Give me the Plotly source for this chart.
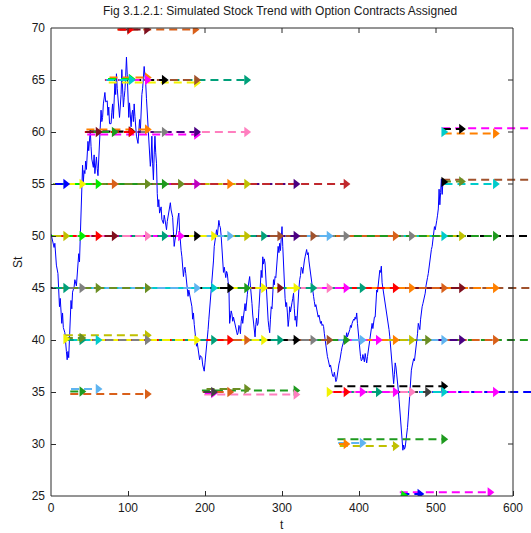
import plotly.graph_objects as go

# ---- simulated stock path (day, price) ----
t_days = [
    0, 2, 4, 5, 7, 9, 10, 11, 12, 13,
    14, 15, 16, 18, 19, 20, 21, 22, 23, 24,
    25, 26, 27, 28, 30, 31, 33, 35, 36, 37,
    38, 39, 40, 41, 42, 43, 44, 45, 46, 47,
    48, 49, 50, 51, 52, 53, 55, 56, 57, 58,
    59, 60, 61, 62, 63, 64, 65, 66, 67, 68,
    70, 71, 73, 74, 75, 76, 78, 79, 80, 81,
    83, 84, 85, 86, 87, 88, 89, 90, 91, 92,
    93, 94, 95, 96, 97, 98, 99, 100, 101, 102,
    103, 104, 105, 106, 107, 108, 109, 110, 111, 113,
    114, 115, 116, 117, 118, 119, 120, 121, 122, 123,
    124, 125, 126, 127, 128, 129, 130, 131, 132, 133,
    134, 135, 136, 137, 138, 139, 140, 141, 143, 144,
    146, 147, 148, 150, 151, 153, 155, 156, 158, 159,
    160, 161, 163, 165, 166, 167, 168, 169, 170, 171,
    172, 173, 174, 175, 176, 177, 178, 179, 180, 181,
    183, 184, 185, 186, 187, 188, 189, 190, 191, 192,
    193, 194, 196, 197, 198, 199, 200, 201, 202, 203,
    204, 205, 206, 207, 208, 209, 210, 211, 212, 213,
    214, 215, 216, 217, 218, 219, 220, 221, 222, 223,
    224, 225, 226, 227, 228, 229, 230, 231, 232, 233,
    234, 235, 236, 237, 238, 239, 240, 241, 242, 243,
    244, 245, 246, 247, 248, 249, 250, 251, 252, 253,
    254, 255, 256, 257, 258, 259, 260, 261, 262, 263,
    264, 265, 266, 267, 268, 269, 270, 271, 272, 273,
    274, 275, 276, 277, 278, 279, 280, 281, 282, 283,
    284, 285, 286, 287, 288, 289, 290, 291, 292, 293,
    294, 295, 296, 297, 298, 299, 300, 301, 302, 303,
    304, 305, 306, 307, 308, 309, 310, 311, 312, 313,
    314, 315, 316, 317, 318, 319, 320, 321, 322, 323,
    324, 325, 326, 327, 328, 329, 330, 331, 332, 333,
    334, 335, 336, 337, 338, 339, 340, 341, 342, 343,
    344, 345, 346, 347, 348, 349, 350, 351, 352, 353,
    354, 355, 356, 357, 358, 359, 360, 361, 362, 363,
    364, 365, 366, 367, 368, 369, 370, 371, 372, 373,
    374, 375, 376, 377, 378, 379, 380, 381, 382, 383,
    384, 385, 386, 387, 388, 389, 390, 391, 392, 393,
    394, 395, 396, 397, 398, 399, 400, 401, 402, 403,
    404, 405, 406, 407, 408, 409, 410, 411, 412, 413,
    414, 415, 416, 417, 418, 419, 420, 421, 422, 423,
    424, 425, 426, 427, 428, 429, 430, 431, 432, 433,
    434, 435, 436, 437, 438, 439, 440, 441, 442, 443,
    444, 445, 446, 447, 448, 449, 450, 451, 452, 453,
    454, 455, 456, 457, 458, 459, 460, 461, 462, 463,
    464, 465, 466, 467, 468, 469, 470, 471, 472, 473,
    474, 475, 476, 477, 478, 479, 480, 481, 482, 483,
    484, 485, 486, 487, 488, 489, 490, 491, 492, 493,
    494, 495, 496, 497, 498, 499, 500, 501, 502, 503,
    504, 505, 506, 507, 508, 509,
]
st_price = [
    50.2, 49.6, 48.9, 49.3, 47.2, 46.4, 44.8, 43.2, 44.0, 42.4,
    41.6, 42.6, 41.2, 40.7, 39.4, 38.9, 38.1, 38.9, 38.3, 40.0,
    41.5, 43.8, 43.0, 44.6, 45.1, 45.8, 45.2, 47.0, 48.3, 47.5,
    49.6, 50.9, 54.7, 56.8, 55.2, 56.3, 56.0, 57.2, 56.4, 58.3,
    59.1, 58.2, 59.9, 60.2, 58.6, 57.4, 56.6, 57.8, 56.0, 56.9,
    57.6, 56.5, 55.8, 57.4, 59.2, 60.6, 62.1, 61.0, 61.4, 62.7,
    63.8, 62.9, 63.0, 61.6, 62.4, 60.8, 60.8, 61.9, 62.7, 61.3,
    64.7, 63.6, 65.6, 64.2, 63.0, 62.0, 61.4, 62.5, 63.6, 66.0,
    64.5, 62.4, 63.3, 64.0, 65.4, 67.2, 65.5, 63.0, 61.4, 62.8,
    61.9, 60.5, 61.7, 62.1, 61.0, 62.7, 61.5, 60.2, 59.6, 58.9,
    60.3, 61.2, 60.0, 62.2, 63.6, 64.2, 65.0, 66.3, 65.4, 64.7,
    63.2, 61.8, 60.4, 59.2, 57.8, 56.7, 57.5, 59.6, 57.0, 55.4,
    57.8, 59.6, 58.0, 57.0, 54.1, 52.8, 53.5, 52.2, 52.8, 51.6,
    51.2, 52.0, 51.6, 50.6, 51.4, 52.2, 53.2, 52.5, 51.8, 50.4,
    49.0, 49.6, 50.3, 51.8, 52.2, 50.5, 49.0, 48.6, 48.0, 47.2,
    46.1, 46.8, 47.0, 46.4, 45.8, 45.0, 44.2, 44.8, 44.4, 43.8,
    43.2, 42.0, 42.6, 41.5, 40.7, 40.2, 39.4, 39.7, 39.0, 38.6,
    38.1, 38.5, 38.3, 37.6, 37.3, 37.0, 37.8, 38.5, 39.4, 40.1,
    41.0, 42.0, 42.9, 43.6, 44.8, 46.0, 47.0, 47.6, 49.0, 49.5,
    50.1, 50.6, 50.0, 51.2, 51.5, 51.0, 50.8, 50.0, 48.6, 47.5,
    46.5, 47.0, 46.2, 46.0, 46.6, 46.4, 45.6, 45.2, 41.6, 42.2,
    42.8, 42.5, 41.8, 42.2, 41.9, 41.6, 41.2, 41.0, 40.5, 40.7,
    41.4, 41.3, 40.6, 41.8, 42.3, 41.6, 42.2, 43.0, 43.5, 42.8,
    44.0, 44.4, 45.1, 45.6, 46.1, 45.2, 44.6, 43.5, 42.4, 41.6,
    41.0, 40.3, 41.5, 42.1, 41.4, 41.6, 43.0, 44.5, 45.4, 46.7,
    46.0, 48.0, 47.3, 47.8, 47.4, 45.8, 44.2, 43.1, 41.9, 41.2,
    40.7, 42.0, 43.2, 43.0, 44.6, 45.8, 45.3, 46.1, 46.0, 47.4,
    48.1, 49.0, 48.4, 49.3, 48.6, 49.8, 50.9, 49.0, 47.4, 44.8,
    44.0, 43.2, 43.6, 42.6, 41.3, 42.0, 43.2, 42.7, 43.4, 43.6,
    44.0, 44.5, 43.0, 41.9, 42.3, 41.3, 42.5, 44.5, 45.0, 45.8,
    46.2, 47.0, 46.9, 46.4, 47.3, 47.6, 48.0, 48.3, 48.7, 48.2,
    48.4, 47.6, 47.0, 46.3, 45.5, 45.0, 44.7, 44.2, 43.7, 43.2,
    43.4, 43.0, 42.6, 42.2, 42.4, 41.9, 41.6, 41.8, 41.4, 41.5,
    41.3, 40.6, 40.0, 39.4, 38.7, 38.4, 38.1, 37.8, 37.4, 37.6,
    37.0, 36.8, 36.5, 36.5, 36.9, 36.3, 36.0, 36.2, 36.8, 37.3,
    37.7, 38.0, 38.7, 38.9, 39.3, 39.6, 40.0, 40.2, 40.4, 40.1,
    40.7, 40.3, 40.5, 40.8, 41.0, 41.4, 41.2, 41.6, 41.8, 42.0,
    41.9, 42.2, 42.0, 42.6, 41.6, 40.7, 39.5, 38.7, 38.4, 38.0,
    38.1, 38.6, 38.2, 37.9, 38.7, 38.2, 37.8, 38.4, 39.0, 39.6,
    40.3, 40.9, 41.3, 41.6, 41.1, 41.8, 42.2, 42.2, 43.5, 44.8,
    44.6, 45.2, 46.0, 46.7, 46.5, 47.1, 45.5, 45.0, 44.6, 44.0,
    43.5, 43.2, 42.9, 42.3, 41.6, 41.0, 40.3, 39.5, 38.4, 37.2,
    36.4, 35.8, 36.7, 37.8, 37.4, 36.8, 36.2, 35.2, 34.3, 33.3,
    31.8, 31.0, 30.0, 29.4, 29.9, 29.5, 29.7, 30.2, 30.7, 31.6,
    32.6, 33.8, 35.2, 36.2, 37.1, 37.5, 37.8, 38.2, 38.0, 38.6,
    39.0, 39.6, 40.6, 41.6, 41.2, 41.0, 42.0, 42.9, 43.2, 43.5,
    43.8, 44.0, 44.5, 45.2, 45.8, 46.0, 46.4, 47.1, 47.6, 48.2,
    48.7, 49.0, 49.6, 50.2, 50.9, 50.6, 50.9, 51.5, 52.0, 52.6,
    54.5, 53.0, 54.2, 55.5, 54.0, 55.2,
]

# ---- option contracts: strike level, day written, expiry day, colour ----
opt_strike = [
    69.85, 69.85, 69.85,
    65.0, 64.75, 65.0, 65.0, 65.25, 65.0, 65.1, 65.0,
    60.0, 59.75, 60.0, 60.0, 60.25, 60.05, 60.0, 60.0, 60.0,
    55, 55, 55, 55, 55, 55, 55, 55, 55, 55, 55, 55,
    50, 50, 50, 50, 50, 50, 50, 50, 50, 50, 50, 50,
    50, 50, 50, 50, 50, 50, 50, 50, 50, 50, 50,
    45, 45, 45, 45, 45, 45, 45, 45, 45, 45, 45,
    45, 45, 45, 45, 45, 45, 45, 45, 45, 45,
    40.45, 40.0, 40, 40, 40, 40, 40, 40, 40, 40, 40, 40,
    40, 40, 40, 40, 40, 40, 40, 40, 40, 40, 40, 40.2, 40.1,
    34.8, 35.3, 35.05,
    35.15, 34.75, 35.3, 35.0, 34.9, 35.0,
    35.0, 35.0, 35.55, 35.0, 35.0, 35.0, 35.0, 35.0, 35.0, 35.0, 35.0,
    30.45, 29.8, 30.1, 30.0,
    25.35, 25.2, 25.05,
    55.4, 55.0, 55.25, 55.2,
    60.35, 59.85, 60.3, 60.0,
]
opt_start = [
    86, 89, 87,
    72, 75, 70, 73, 76, 71, 74, 72,
    44, 47, 45, 49, 46, 50, 44, 48, 45,
    7, 10, 5, 13, 8, 4, 3, 11, 6, 9, 4, 5,
    0, 10, 2, 8, 13, 5, 4, 11, 1, 7, 14, 3,
    9, 12, 6, 0, 10, 4, 8, 2, 6, 1, 3,
    3, 8, 13, 5, 11, 1, 9, 14, 4, 10, 2,
    7, 12, 6, 0, 11, 3, 8, 5, 2, 4,
    18, 18, 23, 28, 20, 26, 31, 22, 29, 19, 25, 30,
    21, 27, 32, 24, 18, 28, 22, 26, 20, 24, 19, 18, 18,
    25, 26, 25,
    196, 199, 202, 197, 200, 198,
    360, 364, 368, 361, 365, 369, 362, 366, 363, 367, 360,
    372, 375, 373, 374,
    453, 455, 454,
    508, 511, 509, 508,
    508, 510, 509, 508,
]
opt_expiry = [
    187, 124, 102,
    254, 189, 189, 147, 125, 125, 104, 104,
    254, 189, 189, 147, 125, 104, 104, 82, 61,
    318, 254, 232, 189, 168, 383, 147, 125, 82, 61, 40, 19,
    640, 533, 510, 468, 447, 577, 383, 361, 340, 318, 297, 276,
    254, 232, 211, 189, 168, 147, 125, 82, 61, 40, 19,
    640, 577, 533, 510, 468, 447, 404, 383, 361, 340, 318,
    297, 276, 254, 232, 211, 189, 125, 61, 40, 19,
    125, 640, 577, 533, 510, 489, 468, 447, 425, 404, 383, 361,
    340, 318, 297, 276, 254, 232, 211, 189, 125, 61, 40, 40, 19,
    125, 61, 40,
    318, 318, 254, 232, 211, 211,
    640, 577, 510, 510, 489, 468, 447, 425, 404, 383, 361,
    510, 447, 404, 383,
    570, 479, 458,
    640, 577, 533, 510,
    640, 577, 533, 510,
]
opt_color = [
    "dkorange", "darkred", "red",
    "teal", "yellow", "brown", "black", "orange", "magenta", "lime", "cyan",
    "pink", "magenta", "indigo", "gray", "orange", "black", "red", "green", "darkred",
    "indigo", "oliveyellow", "orange", "purple", "olive", "crimson", "green", "olive",
    "dkorange", "lime", "yellow", "blue",
    "black", "oliveyellow", "cyan", "gray", "dkorange", "green", "gray", "ltblue",
    "brown", "indigo", "brown", "teal",
    "oliveyellow", "ltblue", "yellow", "black", "magenta", "teal", "pink", "darkred",
    "red", "lime", "oliveyellow",
    "brown", "orange", "darkred", "dkorange", "orange", "red", "teal", "magenta",
    "pink", "teal", "yellow",
    "darkred", "yellow", "green", "black", "cyan", "ltblue", "olive", "olive", "gray", "teal",
    "oliveyellow", "green", "dkorange", "indigo", "ltblue", "olive", "oliveyellow", "orange",
    "magenta", "ltblue", "green", "brown",
    "gray", "black", "teal", "yellow", "dkorange", "red", "teal", "yellow", "gray", "cyan",
    "teal", "olive", "yellow",
    "dkorange", "ltblue", "green",
    "green", "pink", "olive", "dkorange", "magenta", "dkgray",
    "blue", "magenta", "black", "cyan", "dkgray", "pink", "magenta", "teal", "magenta",
    "red", "yellow",
    "green", "oliveyellow", "ltblue", "orange",
    "magenta", "blue", "lime",
    "brown", "cyan", "olive", "black",
    "magenta", "orange", "black", "cyan",
]

palette = {
    "blue": "#0000ff", "yellow": "#f2f200", "lime": "#00ee00", "green": "#1e9a1e",
    "orange": "#ff8000", "dkorange": "#d9601a", "red": "#ff0000", "crimson": "#c0282d",
    "darkred": "#7f0f1e", "pink": "#ff7fbf", "teal": "#00a07a", "magenta": "#ff00ff",
    "purple": "#c000c0", "indigo": "#4b0082", "black": "#000000", "cyan": "#00cccc",
    "ltblue": "#5fb4f0", "olive": "#6b8e23", "gray": "#808080", "brown": "#a0522d",
    "oliveyellow": "#c0c000", "dkgray": "#404040",
}

x_ticks = [0, 100, 200, 300, 400, 500, 600]
y_ticks = [25, 30, 35, 40, 45, 50, 55, 60, 65, 70]

W, H = 531, 533
M_L, M_R, M_T, M_B = 51, 0, 28, 37
T_END = 600
X_MAX = T_END * (W - M_L - M_R) / 462.0   # axis box ends at t = 600, lines may run past it
Y_MIN, Y_MAX = 25, 70
PLOT_W = W - M_L - M_R
PLOT_H = H - M_T - M_B
AX_COLOR = "#2b2b2b"
FONT = "Liberation Sans, Arial, Helvetica, sans-serif"

fig = go.Figure()

# stock path
fig.add_trace(go.Scatter(
    x=t_days, y=st_price, mode="lines",
    line=dict(color="#0000ff", width=1),
    hoverinfo="skip", showlegend=False,
))

# contract lines, from the day written to expiry
for k, t0, t1, c in zip(opt_strike, opt_start, opt_expiry, opt_color):
    fig.add_trace(go.Scatter(
        x=[t0, t1], y=[k, k], mode="lines",
        line=dict(color=palette[c], width=2, dash="8px,5px"),
        hoverinfo="skip", showlegend=False,
    ))

# expiry markers on top of all lines
fig.add_trace(go.Scatter(
    x=opt_expiry, y=opt_strike, mode="markers",
    marker=dict(symbol="triangle-right", size=9,
                color=[palette[c] for c in opt_color], line=dict(width=0)),
    hoverinfo="skip", showlegend=False,
))

# axis box (closed at t = 600) with ticks mirrored on top and right
xf = T_END / X_MAX
shapes = [
    dict(type="line", xref="paper", yref="paper", x0=0, x1=xf, y0=0, y1=0),
    dict(type="line", xref="paper", yref="paper", x0=0, x1=xf, y0=1, y1=1),
    dict(type="line", xref="paper", yref="paper", x0=0, x1=0, y0=0, y1=1),
    dict(type="line", xref="paper", yref="paper", x0=xf, x1=xf, y0=0, y1=1),
]
for v in x_ticks[1:-1]:
    xv = v / X_MAX
    shapes.append(dict(type="line", xref="paper", yref="paper",
                       x0=xv, x1=xv, y0=1, y1=1 - 5.0 / PLOT_H))
for v in y_ticks[1:-1]:
    yv = (v - Y_MIN) / (Y_MAX - Y_MIN)
    shapes.append(dict(type="line", xref="paper", yref="paper",
                       x0=xf - 5.0 / PLOT_W, x1=xf, y0=yv, y1=yv))
for s in shapes:
    s["line"] = dict(color=AX_COLOR, width=1)
    s["layer"] = "above"

fig.update_layout(
    width=W, height=H,
    margin=dict(l=M_L, r=M_R, t=M_T, b=M_B, pad=0),
    paper_bgcolor="white", plot_bgcolor="white",
    font=dict(family=FONT, size=12, color="#1a1a1a"),
    showlegend=False,
    shapes=shapes,
    xaxis=dict(
        range=[0, X_MAX], tickvals=x_ticks, ticktext=[str(v) for v in x_ticks],
        ticks="inside", ticklen=5, tickcolor=AX_COLOR, showline=False,
        showgrid=False, zeroline=False, ticklabelstandoff=3,
    ),
    yaxis=dict(
        range=[Y_MIN, Y_MAX], tickvals=y_ticks, ticktext=[str(v) for v in y_ticks],
        ticks="inside", ticklen=5, tickcolor=AX_COLOR, showline=False,
        showgrid=False, zeroline=False, ticklabelstandoff=5,
    ),
    annotations=[
        dict(text="Fig 3.1.2.1: Simulated Stock Trend with Option Contracts Assigned",
             xref="paper", yref="paper", x=(280 - M_L) / PLOT_W, y=(PLOT_H + M_T - 11) / PLOT_H,
             xanchor="center", yanchor="middle", showarrow=False, font=dict(size=12)),
        dict(text="t", xref="paper", yref="paper", x=(282 - M_L) / PLOT_W,
             y=-(525 - (H - M_B)) / PLOT_H, xanchor="center", yanchor="middle",
             showarrow=False, font=dict(size=12)),
        dict(text="St", xref="paper", yref="paper", x=(18 - M_L) / PLOT_W, y=0.5,
             xanchor="center", yanchor="middle", textangle=-90, showarrow=False,
             font=dict(size=12)),
    ],
)

fig.write_html("out.html")
